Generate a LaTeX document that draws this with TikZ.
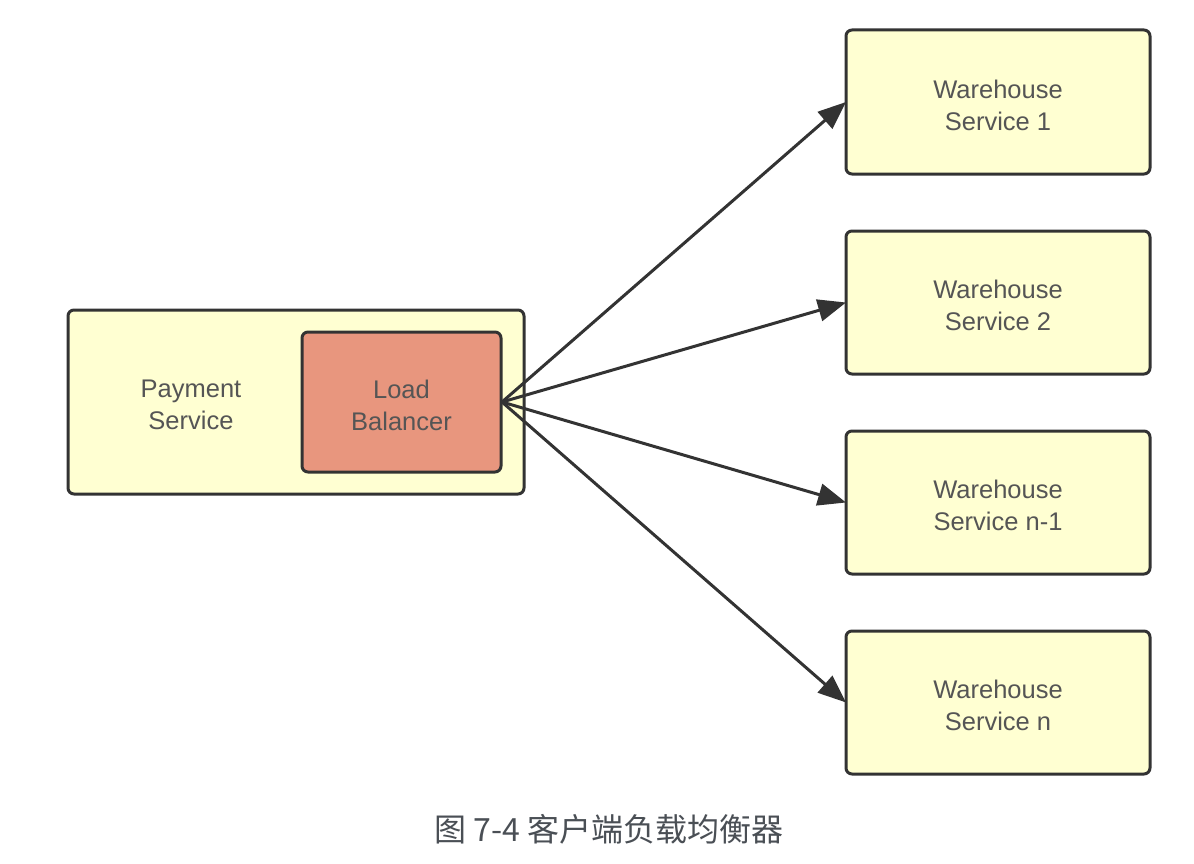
\documentclass[tikz,border=0pt]{standalone}
\usepackage{fontspec}
\setmainfont{Liberation Sans}
\newfontfamily\cjk{Noto Sans CJK SC}
\usetikzlibrary{arrows.meta}
\definecolor{boxyellow}{HTML}{FFFFD2}
\definecolor{lbsalmon}{HTML}{E8967E}
\definecolor{edge}{HTML}{333333}
\definecolor{txt}{HTML}{555555}
\definecolor{captxt}{HTML}{4A4F55}
\begin{document}
\begin{tikzpicture}[x=1pt,y=-1pt,
  boxstyle/.style={draw=edge, line width=3pt, rounded corners=6pt, fill=boxyellow},
  lbstyle/.style={draw=edge, line width=3pt, rounded corners=6pt, fill=lbsalmon},
  lbl/.style={text=txt, font=\fontsize{25.5}{32}\selectfont, align=center},
  conn/.style={draw=edge, line width=3pt, -{Triangle[length=28pt,width=22pt]}}
]
\useasboundingbox (0,0) rectangle (1194,864);
% Payment service
\draw[boxstyle] (68,310) rectangle (524,494);
\coordinate (pay) at (191,405);
\node[lbl] (paytxt) at (pay) {Payment\\Service};
\draw[lbstyle] (302,332) rectangle (501,472);
\node[lbl] (lb) at (401.5,405) {Load\\Balancer};
\coordinate (lbout) at (502,402);
% Warehouses
\draw[boxstyle] (846,30) rectangle (1150,174);
\node[lbl] (w1) at (998,105) {Warehouse\\Service 1};
\coordinate (w1in) at (846,102);
\draw[boxstyle] (846,231) rectangle (1150,374);
\node[lbl] (w2) at (998,305) {Warehouse\\Service 2};
\coordinate (w2in) at (846,302.5);
\draw[boxstyle] (846,431) rectangle (1150,574);
\node[lbl] (w3) at (998,505) {Warehouse\\Service n-1};
\coordinate (w3in) at (846,502.5);
\draw[boxstyle] (846,631) rectangle (1150,774);
\node[lbl] (w4) at (998,705) {Warehouse\\Service n};
\coordinate (w4in) at (846,702.5);
% Connectors
\draw[conn] (lbout) -- (w1in);
\draw[conn] (lbout) -- (w2in);
\draw[conn] (lbout) -- (w3in);
\draw[conn] (lbout) -- (w4in);
% Caption
\node[text=captxt, font=\cjk\fontsize{32}{36}\selectfont] (cap) at (609,829) {图 7-4 客户端负载均衡器};
\end{tikzpicture}
\end{document}
